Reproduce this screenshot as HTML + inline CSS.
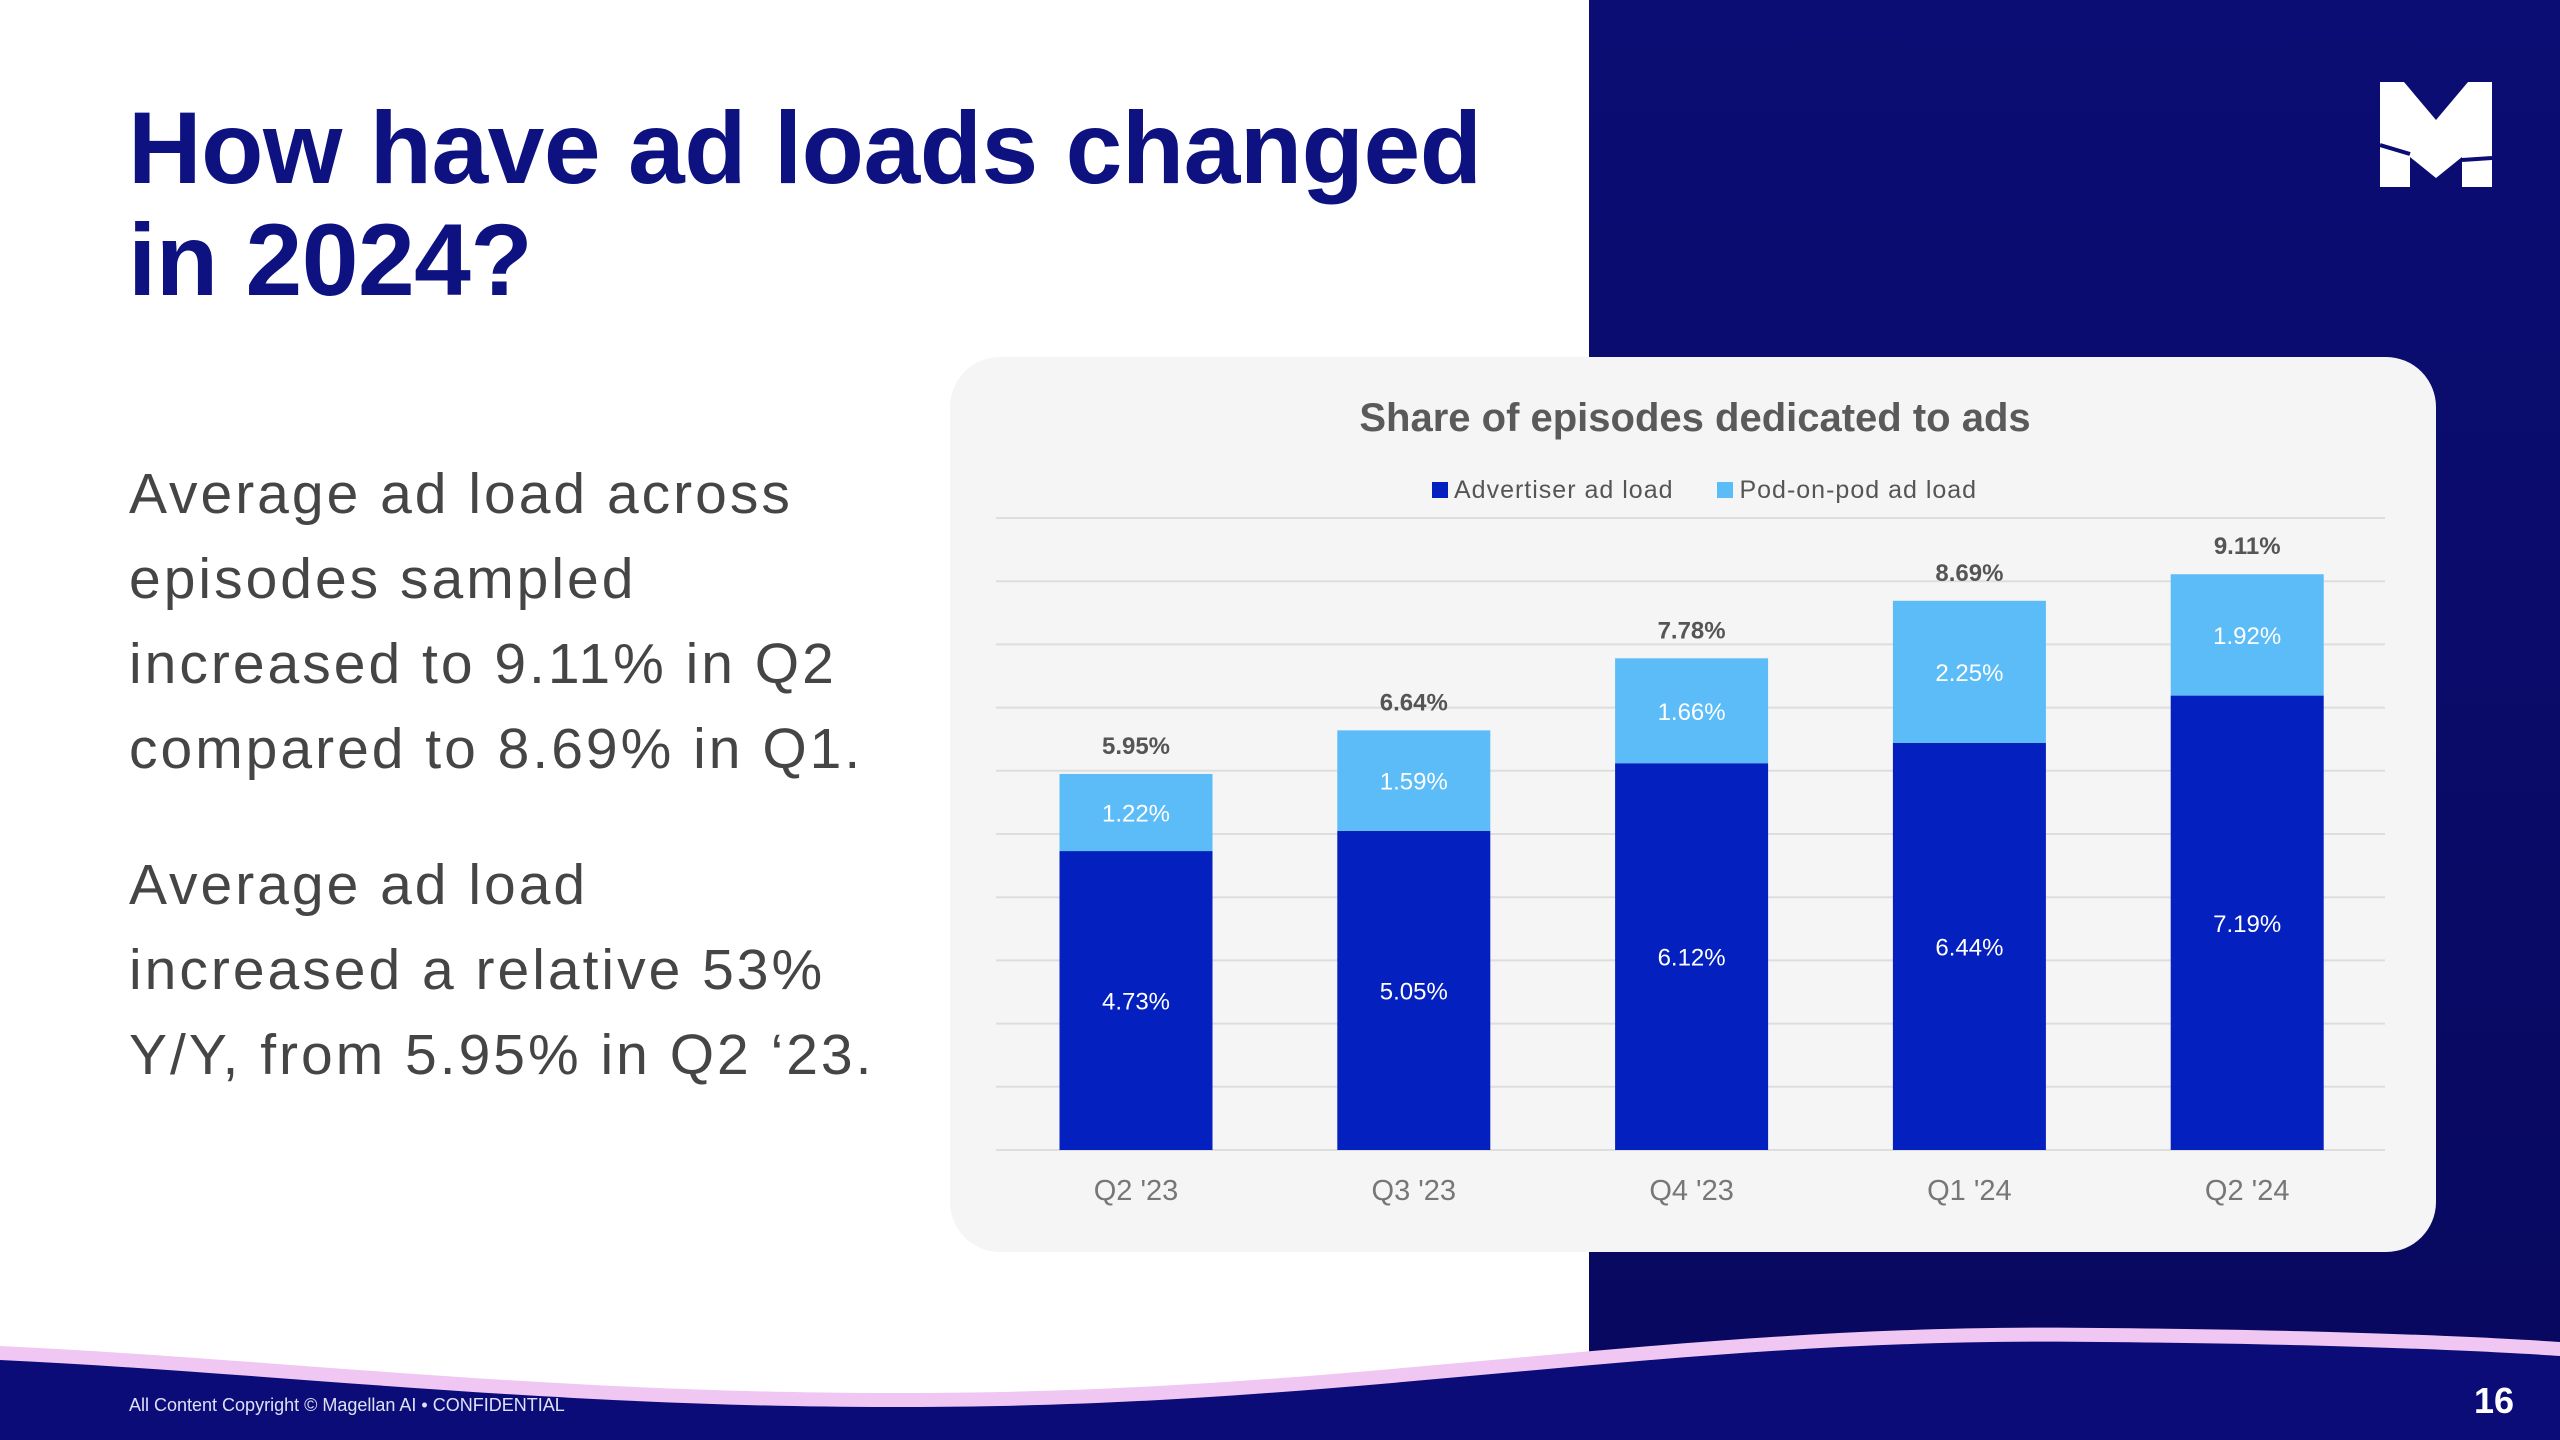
<!DOCTYPE html>
<html><head><meta charset="utf-8"><style>
body{margin:0;width:2560px;height:1440px;position:relative;overflow:hidden;background:#fff;font-family:"Liberation Sans",sans-serif}
.abs{position:absolute}
</style></head><body>
<div class="abs" style="left:1589px;top:0;width:971px;height:1440px;background:linear-gradient(#0b0d74,#08085e)"></div>
<svg class="abs" style="left:2380px;top:82px" width="112" height="105" viewBox="0 0 112 105">
<path d="M0 0H24L56 38L88 0H112V105H82V75L56 96L30 75V105H0Z" fill="#fff"/>
<path d="M0 63L30 72" stroke="#0b0d74" stroke-width="4"/><path d="M82 78L112 76" stroke="#0b0d74" stroke-width="4"/>
</svg>
<div class="abs" style="left:128px;top:92px;font-size:102px;font-weight:bold;color:#0d1280;line-height:112px;letter-spacing:-0.5px">How have ad loads changed<br>in 2024?</div>
<div class="abs" style="left:129px;top:452px;font-size:57px;color:#454545;line-height:85px;letter-spacing:3px">Average ad load across<br>episodes sampled<br>increased to 9.11% in Q2<br>compared to 8.69% in Q1.</div>
<div class="abs" style="left:129px;top:843px;font-size:57px;color:#454545;line-height:85px;letter-spacing:3px">Average ad load<br>increased a relative 53%<br>Y/Y, from 5.95% in Q2 ‘23.</div>
<div class="abs" style="left:950px;top:357px;width:1486px;height:895px;background:#f5f5f5;border-radius:50px"></div>
<div class="abs" style="left:950px;width:1490px;top:396px;text-align:center;font-size:40px;font-weight:bold;color:#5a5a5a;letter-spacing:0px">Share of episodes dedicated to ads</div>
<div class="abs" style="left:1432px;top:476px;font-size:25px;color:#555;white-space:nowrap;letter-spacing:1px">
<span><span style="display:inline-block;width:16px;height:16px;background:#0420bf;margin-right:6px"></span>Advertiser ad load</span>
<span style="margin-left:36px"><span style="display:inline-block;width:16px;height:16px;background:#5bbcf8;margin-right:6px"></span>Pod-on-pod ad load</span>
</div>
<svg id="chart" class="abs" style="left:0;top:0" width="2560" height="1300"></svg>
<svg class="abs" style="left:0;top:1320px" width="2560" height="120" viewBox="0 0 2560 120">
<path d="M0 26C300 40 600 80 1000 72C1400 64 1700 2 2100 8C2350 10 2500 18 2560 22V120H0Z" fill="#f0c6f2"/>
<path d="M0 40C300 54 600 94 1000 86C1400 78 1700 16 2100 22C2350 24 2500 32 2560 36V120H0Z" fill="#0b0c78"/>
</svg>
<div class="abs" style="left:129px;top:1395px;font-size:18px;color:#dfe0f5">All Content Copyright © Magellan AI • CONFIDENTIAL</div>
<div class="abs" style="left:2474px;top:1380px;font-size:36px;font-weight:bold;color:#fff">16</div>
<script>
const categories=["Q2 '23","Q3 '23","Q4 '23","Q1 '24","Q2 '24"];
const advertiser=[4.73,5.05,6.12,6.44,7.19];
const podOnPod=[1.22,1.59,1.66,2.25,1.92];
const totals=[5.95,6.64,7.78,8.69,9.11];
const svg=document.getElementById('chart');
const NS='http://www.w3.org/2000/svg';
const x0=996,x1=2385,base=1150,step=63.2,bw=153;
const y=v=>base-v*step;
const xc=i=>1136+i*277.8;
function mk(t,a){const e=document.createElementNS(NS,t);for(const k in a)e.setAttribute(k,a[k]);svg.appendChild(e);return e;}
for(let g=0;g<=10;g++){const l=mk('line',{x1:x0,x2:x1,y1:y(g),y2:y(g),stroke:'#dedede','stroke-width':2});

}
categories.forEach((c,i)=>{
const a=advertiser[i],p=podOnPod[i],cx=xc(i);
const r1=mk('rect',{x:cx-bw/2,y:y(a),width:bw,height:a*step,fill:'#0420bf'});


const r2=mk('rect',{x:cx-bw/2,y:y(a+p),width:bw,height:p*step,fill:'#5bbcf8'});


const t1=mk('text',{x:cx,y:y(a/2)+9,'text-anchor':'middle','font-size':24,fill:'#fff'});t1.textContent=a.toFixed(2)+'%';


const t2=mk('text',{x:cx,y:y(a+p/2)+9,'text-anchor':'middle','font-size':24,fill:'#fff'});t2.textContent=p.toFixed(2)+'%';


const t3=mk('text',{x:cx,y:y(a+p)-20,'text-anchor':'middle','font-size':24,'font-weight':'bold',fill:'#555'});t3.textContent=totals[i].toFixed(2)+'%';


const t4=mk('text',{x:cx,y:1200,'text-anchor':'middle','font-size':29,fill:'#777'});t4.textContent=c;


});
</script>
</body></html>
